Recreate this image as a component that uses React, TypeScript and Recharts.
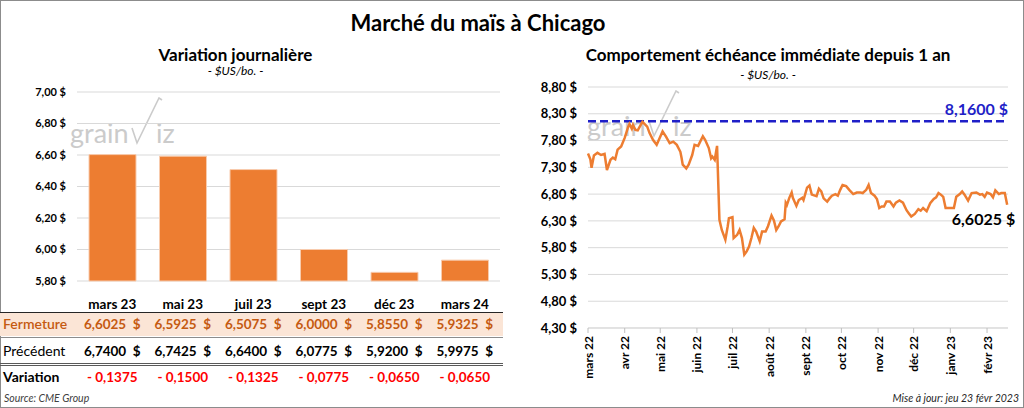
import {
  Bar,
  BarChart,
  CartesianGrid,
  LabelList,
  Line,
  LineChart,
  ReferenceLine,
  XAxis,
  YAxis,
} from "recharts";

// Contrats (variation journalière)
const contracts = ["mars 23", "mai 23", "juil 23", "sept 23", "déc 23", "mars 24"];
const fermeture = [6.6025, 6.5925, 6.5075, 6.0, 5.855, 5.9325];
const precedent = [6.74, 6.7425, 6.64, 6.0775, 5.92, 5.9975];
const barTicks = [5.8, 6.0, 6.2, 6.4, 6.6, 6.8, 7.0];

// Échéance immédiate depuis 1 an (lecture du graphique)
const dates = [
  "2022-03-01", "2022-03-03", "2022-03-04", "2022-03-06", "2022-03-09", "2022-03-12", "2022-03-15",
  "2022-03-17", "2022-03-20", "2022-03-22", "2022-03-24", "2022-03-26", "2022-03-29",
  "2022-04-01", "2022-04-04", "2022-04-05", "2022-04-07", "2022-04-08", "2022-04-10", "2022-04-12",
  "2022-04-15", "2022-04-16", "2022-04-20", "2022-04-22", "2022-04-25", "2022-04-28",
  "2022-05-01", "2022-05-03", "2022-05-06", "2022-05-09", "2022-05-12", "2022-05-15", "2022-05-18",
  "2022-05-19", "2022-05-20", "2022-05-23", "2022-05-25", "2022-05-28", "2022-05-30",
  "2022-06-02", "2022-06-06", "2022-06-08", "2022-06-11", "2022-06-13", "2022-06-14", "2022-06-16",
  "2022-06-18", "2022-06-20", "2022-06-22", "2022-06-25", "2022-06-27", "2022-06-28",
  "2022-07-01", "2022-07-02", "2022-07-05", "2022-07-07", "2022-07-09", "2022-07-11", "2022-07-13",
  "2022-07-15", "2022-07-17", "2022-07-19", "2022-07-21", "2022-07-24", "2022-07-26", "2022-07-29",
  "2022-07-31",
  "2022-08-03", "2022-08-05", "2022-08-07", "2022-08-09", "2022-08-11", "2022-08-14", "2022-08-15",
  "2022-08-16", "2022-08-18", "2022-08-20", "2022-08-21", "2022-08-24", "2022-08-26", "2022-08-29",
  "2022-08-30",
  "2022-09-02", "2022-09-04", "2022-09-06", "2022-09-10", "2022-09-12", "2022-09-14", "2022-09-16",
  "2022-09-19", "2022-09-21", "2022-09-23", "2022-09-26", "2022-09-28", "2022-09-30",
  "2022-10-02", "2022-10-05", "2022-10-08", "2022-10-11", "2022-10-14", "2022-10-17", "2022-10-19",
  "2022-10-22", "2022-10-24", "2022-10-26", "2022-10-29", "2022-10-31",
  "2022-11-02", "2022-11-04", "2022-11-06", "2022-11-08", "2022-11-11", "2022-11-14", "2022-11-16",
  "2022-11-19", "2022-11-22", "2022-11-25", "2022-11-27", "2022-11-29",
  "2022-12-02", "2022-12-05", "2022-12-07", "2022-12-09", "2022-12-12", "2022-12-15", "2022-12-18",
  "2022-12-20", "2022-12-22", "2022-12-24", "2022-12-26", "2022-12-28",
  "2023-01-01", "2023-01-04", "2023-01-06", "2023-01-09", "2023-01-11", "2023-01-13", "2023-01-16",
  "2023-01-19", "2023-01-23", "2023-01-26", "2023-01-28", "2023-01-30",
  "2023-02-01", "2023-02-04", "2023-02-06", "2023-02-08", "2023-02-11", "2023-02-13", "2023-02-16",
  "2023-02-18",
];
const prices = [
  7.56, 7.45, 7.29, 7.52, 7.57, 7.53, 7.55, 7.25, 7.44, 7.48, 7.45, 7.63, 7.69,
  7.85, 8.06, 8.11, 8.02, 8.09, 8.0, 7.99, 8.11, 8.15, 8.06, 7.94, 7.81, 7.72,
  7.87, 7.97, 7.87, 7.75, 7.78, 7.72, 7.59, 7.48, 7.35, 7.28, 7.35, 7.53, 7.72,
  7.7, 7.88, 7.81, 7.66, 7.47, 7.5, 7.44, 7.7, 6.32, 6.13, 5.95, 6.2, 6.35,
  6.37, 5.98, 6.04, 6.13, 5.98, 5.67, 5.73, 5.82, 5.98, 6.17, 6.1, 5.92, 6.1, 6.1, 6.2,
  6.4, 6.31, 6.13, 6.2, 6.29, 6.33, 6.64, 6.6, 6.73, 6.83, 6.73, 6.58, 6.69, 6.73, 6.69,
  6.92, 6.96, 6.79, 6.76, 6.9, 6.85, 6.72, 6.66, 6.72, 6.77, 6.8, 6.77, 6.88,
  6.97, 6.95, 6.87, 6.8, 6.83, 6.83, 6.82, 6.88, 6.97, 6.82, 6.77, 6.71,
  6.54, 6.57, 6.57, 6.66, 6.66, 6.57, 6.64, 6.68, 6.64, 6.5, 6.44, 6.38,
  6.43, 6.52, 6.49, 6.54, 6.48, 6.63, 6.71, 6.74, 6.82, 6.79, 6.75, 6.54,
  6.54, 6.54, 6.75, 6.8, 6.85, 6.79, 6.68, 6.82, 6.83, 6.79, 6.8, 6.75,
  6.83, 6.8, 6.74, 6.87, 6.8, 6.82, 6.82, 6.6025,
];
const monthTicks = [
  "2022-03-01", "2022-04-01", "2022-05-01", "2022-06-01", "2022-07-01", "2022-08-01",
  "2022-09-01", "2022-10-01", "2022-11-01", "2022-12-01", "2023-01-01", "2023-02-01",
];
const monthLabels = [
  "mars 22", "avr 22", "mai 22", "juin 22", "juil 22", "août 22",
  "sept 22", "oct 22", "nov 22", "déc 22", "janv 23", "févr 23",
];
const priceTicks = [4.3, 4.8, 5.3, 5.8, 6.3, 6.8, 7.3, 7.8, 8.3, 8.8];
const plusHaut = 8.16;

const ORANGE = "#ED7D31";
const BLUE = "#1F1FC8";
const GRID = "#D9D9D9";
const FONT = "Lato, 'Noto Sans', sans-serif";

const t0 = Date.parse(dates[0]);
const toDay = (d: string) => (Date.parse(d) - t0) / 86400000;
const fr = (v: number, n: number) => v.toFixed(n).replace(".", ",");
const dollar2 = (v: number) => `${fr(v, 2)} $`;

const barData = contracts.map((c, i) => ({ contrat: c, fermeture: fermeture[i] }));
const lineData = dates.map((d, i) => ({ day: toDay(d), price: prices[i] }));
const monthDays = monthTicks.map(toDay);

const MonthTick = ({ x, y, payload }: any) => {
  const i = monthDays.indexOf(payload.value);
  return (
    <text
      transform={`translate(${x},${y}) rotate(-90)`}
      textAnchor="end"
      dominantBaseline="central"
      fontFamily={FONT}
      fontSize={12}
      fontWeight={700}
      fill="#000"
    >
      {monthLabels[i]}
    </text>
  );
};

function Watermark({ left, top }: { left: number; top: number }) {
  return (
    <svg width={112} height={52} style={{ position: "absolute", left, top }}>
      <text x={0} y={46} fontFamily={FONT} fontSize={27} fill="#CBCBCB">
        grain
      </text>
      <polyline points="62,31 67,46 89,1 92,3" fill="none" stroke="#CBCBCB" strokeWidth={1.6} />
      <text x={86} y={46} fontFamily={FONT} fontSize={27} fill="#CBCBCB">
        iz
      </text>
    </svg>
  );
}

const COL0 = 77;
const COLW = 70.5;

function Cell({ i, y, children, style }: any) {
  return (
    <div
      style={{
        position: "absolute",
        left: COL0 + i * COLW,
        top: y - 9,
        width: COLW,
        height: 18,
        lineHeight: "18px",
        textAlign: "center",
        whiteSpace: "pre",
        fontSize: 13.5,
        fontWeight: 700,
        ...style,
      }}
    >
      {children}
    </div>
  );
}

function RowLabel({ y, children, style }: any) {
  return (
    <div
      style={{
        position: "absolute",
        left: 3,
        top: y - 9,
        height: 18,
        lineHeight: "18px",
        fontSize: 14,
        whiteSpace: "pre",
        ...style,
      }}
    >
      {children}
    </div>
  );
}

export default function App() {
  const last = prices.length - 1;
  return (
    <div
      style={{
        position: "absolute",
        left: 0,
        top: 0,
        width: 1024,
        height: 408,
        background: "#fff",
        fontFamily: FONT,
        color: "#000",
        overflow: "hidden",
      }}
    >
      <div
        style={{
          position: "absolute",
          left: 0,
          top: 0,
          width: 1024,
          height: 408,
          boxSizing: "border-box",
          border: "1px solid #8C8C8C",
        }}
      />
      <div
        style={{
          position: "absolute",
          left: 0,
          top: 9,
          width: 956,
          textAlign: "center",
          fontSize: 22,
          fontWeight: 700,
        }}
      >
        Marché du maïs à Chicago
      </div>

      {/* Gauche : variation journalière */}
      <div style={{ position: "absolute", left: 0, top: 44, width: 471, textAlign: "center", fontSize: 17, fontWeight: 700 }}>
        Variation journalière
      </div>
      <div style={{ position: "absolute", left: 0, top: 63, width: 471, textAlign: "center", fontSize: 12, fontStyle: "italic" }}>
        - $US/bo. -
      </div>
      <Watermark left={70} top={97} />
      <div style={{ position: "absolute", left: 0, top: 0 }}>
        <BarChart width={512} height={300} data={barData} margin={{ top: 92, right: 12, bottom: 19, left: 0 }}>
          <CartesianGrid stroke={GRID} vertical={false} />
          <XAxis dataKey="contrat" hide />
          <YAxis
            width={77}
            domain={[5.8, 7.0]}
            ticks={barTicks}
            tickFormatter={dollar2}
            axisLine={false}
            tickLine={false}
            tickMargin={5}
            tick={{ fontSize: 11, fontWeight: 700, fill: "#000", fontFamily: FONT }}
          />
          <Bar dataKey="fermeture" fill={ORANGE} stroke="#F8CBAD" strokeWidth={1} barSize={47} isAnimationActive={false} />
        </BarChart>
      </div>

      {/* Tableau */}
      <div style={{ position: "absolute", left: 0, top: 313, width: 503, height: 23, background: "#FBE5D6" }} />
      <div style={{ position: "absolute", left: 0, top: 311.5, width: 503, height: 1.5, background: "#262626" }} />
      <div style={{ position: "absolute", left: 0, top: 336.5, width: 503, height: 1, background: "#8C8C8C" }} />
      <div style={{ position: "absolute", left: 0, top: 362.5, width: 503, height: 1.2, background: "#595959" }} />
      <div style={{ position: "absolute", left: 0, top: 365.3, width: 503, height: 1.2, background: "#595959" }} />
      {contracts.map((c, i) => (
        <Cell key={c} i={i} y={303.5}>{c}</Cell>
      ))}
      <RowLabel y={324} style={{ color: "#C55A11", fontWeight: 600 }}>Fermeture</RowLabel>
      {fermeture.map((v, i) => (
        <Cell key={i} i={i} y={324} style={{ color: "#C55A11" }}>{`${fr(v, 4)}  $`}</Cell>
      ))}
      <RowLabel y={350.5}>Précédent</RowLabel>
      {precedent.map((v, i) => (
        <Cell key={i} i={i} y={350.5}>{`${fr(v, 4)}  $`}</Cell>
      ))}
      <RowLabel y={377} style={{ fontWeight: 700 }}>Variation</RowLabel>
      {fermeture.map((v, i) => {
        const d = v - precedent[i];
        return (
          <Cell key={i} i={i} y={377} style={{ color: "#FF0000" }}>
            {`${d < 0 ? "- " : "+ "}${fr(Math.abs(d), 4)}`}
          </Cell>
        );
      })}
      <div style={{ position: "absolute", left: 4, top: 392, fontSize: 10.5, fontStyle: "italic", color: "#404040" }}>
        Source: CME Group
      </div>

      {/* Droite : échéance immédiate */}
      <div style={{ position: "absolute", left: 512, top: 44, width: 512, textAlign: "center", fontSize: 17, fontWeight: 700 }}>
        Comportement échéance immédiate depuis 1 an
      </div>
      <div style={{ position: "absolute", left: 512, top: 67, width: 512, textAlign: "center", fontSize: 12, fontStyle: "italic" }}>
        - $US/bo. -
      </div>
      <Watermark left={587} top={90} />
      <div style={{ position: "absolute", left: 512, top: 0 }}>
        <LineChart width={512} height={408} data={lineData} margin={{ top: 87, right: 16, bottom: 30, left: 0 }}>
          <CartesianGrid stroke={GRID} vertical={false} />
          <XAxis
            dataKey="day"
            type="number"
            domain={[0, 354.7]}
            ticks={monthDays}
            interval={0}
            height={50}
            tick={<MonthTick />}
            tickSize={5}
            tickMargin={3}
            tickLine={{ stroke: "#BFBFBF" }}
            axisLine={{ stroke: GRID }}
          />
          <YAxis
            width={76}
            domain={[4.3, 8.8]}
            ticks={priceTicks}
            tickFormatter={dollar2}
            axisLine={false}
            tickLine={false}
            tickMargin={5}
            tick={{ fontSize: 13, fontWeight: 700, fill: "#000", fontFamily: FONT }}
          />
          <ReferenceLine
            y={plusHaut}
            stroke={BLUE}
            strokeWidth={2.5}
            strokeDasharray="8 4"
            label={(p: any) => (
              <text
                x={p.viewBox.x + p.viewBox.width}
                y={p.viewBox.y - 6}
                textAnchor="end"
                fontFamily={FONT}
                fontSize={16}
                fontWeight={700}
                fill={BLUE}
              >
                {`${fr(plusHaut, 4)} $`}
              </text>
            )}
          />
          <Line type="linear" dataKey="price" stroke={ORANGE} strokeWidth={2.5} dot={false} isAnimationActive={false}>
            <LabelList
              dataKey="price"
              content={(p: any) =>
                p.index === last ? (
                  <text
                    x={p.x + 8}
                    y={p.y + 20}
                    textAnchor="end"
                    fontFamily={FONT}
                    fontSize={16}
                    fontWeight={700}
                    fill="#000"
                  >
                    {`${fr(prices[last], 4)} $`}
                  </text>
                ) : null
              }
            />
          </Line>
        </LineChart>
      </div>
      <div style={{ position: "absolute", right: 5, top: 392, fontSize: 10.5, fontStyle: "italic", color: "#262626" }}>
        Mise à jour: jeu 23 févr 2023
      </div>
    </div>
  );
}
